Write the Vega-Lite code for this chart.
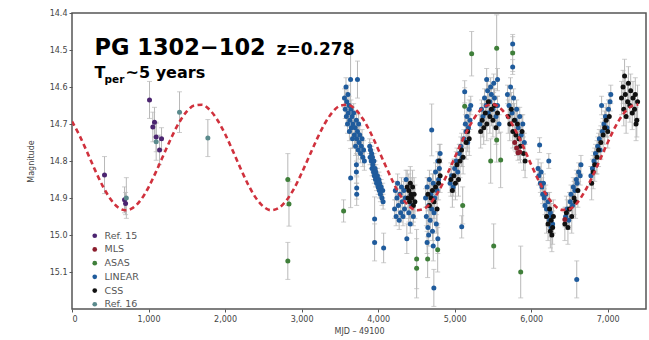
{
  "$schema": "https://vega.github.io/schema/vega-lite/v6.json",
  "width": 574,
  "height": 296,
  "autosize": {"type": "none"},
  "padding": {"left": 72, "top": 13, "right": 3, "bottom": 31},
  "background": "white",
  "config": {
    "view": {"stroke": "#555555", "strokeWidth": 1.5},
    "axis": {"labelFont": "DejaVu Sans", "labelFontSize": 8, "labelColor": "#444444", "titleFont": "DejaVu Sans", "titleFontSize": 8, "titleFontWeight": "normal", "titleColor": "#444444", "domain": false, "grid": false, "tickColor": "#555555", "tickSize": 3}
  },
  "datasets": {
    "model": [
      {"t":0,"mag":14.693},{"t":100,"mag":14.732},{"t":200,"mag":14.777},{"t":300,"mag":14.824},{"t":400,"mag":14.867},{"t":500,"mag":14.902},{"t":600,"mag":14.925},{"t":700,"mag":14.933},{"t":800,"mag":14.926},{"t":900,"mag":14.905},
      {"t":1000,"mag":14.871},{"t":1100,"mag":14.828},{"t":1200,"mag":14.782},{"t":1300,"mag":14.736},{"t":1400,"mag":14.696},{"t":1500,"mag":14.666},{"t":1600,"mag":14.650},{"t":1700,"mag":14.648},{"t":1800,"mag":14.662},{"t":1900,"mag":14.689},
      {"t":2000,"mag":14.727},{"t":2100,"mag":14.772},{"t":2200,"mag":14.819},{"t":2300,"mag":14.863},{"t":2400,"mag":14.899},{"t":2500,"mag":14.923},{"t":2600,"mag":14.933},{"t":2700,"mag":14.927},{"t":2800,"mag":14.907},{"t":2900,"mag":14.875},
      {"t":3000,"mag":14.833},{"t":3100,"mag":14.787},{"t":3200,"mag":14.741},{"t":3300,"mag":14.700},{"t":3400,"mag":14.669},{"t":3500,"mag":14.651},{"t":3600,"mag":14.648},{"t":3700,"mag":14.660},{"t":3800,"mag":14.686},{"t":3900,"mag":14.723},
      {"t":4000,"mag":14.768},{"t":4100,"mag":14.814},{"t":4200,"mag":14.859},{"t":4300,"mag":14.896},{"t":4400,"mag":14.921},{"t":4500,"mag":14.933},{"t":4600,"mag":14.929},{"t":4700,"mag":14.910},{"t":4800,"mag":14.878},{"t":4900,"mag":14.837},
      {"t":5000,"mag":14.791},{"t":5100,"mag":14.745},{"t":5200,"mag":14.704},{"t":5300,"mag":14.671},{"t":5400,"mag":14.652},{"t":5500,"mag":14.647},{"t":5600,"mag":14.658},{"t":5700,"mag":14.683},{"t":5800,"mag":14.719},{"t":5900,"mag":14.763},
      {"t":6000,"mag":14.810},{"t":6100,"mag":14.854},{"t":6200,"mag":14.892},{"t":6300,"mag":14.919},{"t":6400,"mag":14.932},{"t":6500,"mag":14.930},{"t":6600,"mag":14.913},{"t":6700,"mag":14.882},{"t":6800,"mag":14.842},{"t":6900,"mag":14.796},
      {"t":7000,"mag":14.750},{"t":7100,"mag":14.707},{"t":7200,"mag":14.674},{"t":7300,"mag":14.653},{"t":7400,"mag":14.647}
    ],
    "obs": [
      {"src":"Ref. 15","t":425,"mag":14.838,"err":0.05},{"src":"Ref. 15","t":686,"mag":14.905,"err":0.035},{"src":"Ref. 15","t":700,"mag":14.915,"err":0.03},{"src":"Ref. 15","t":1013,"mag":14.635,"err":0.05},{"src":"Ref. 15","t":1056,"mag":14.708,"err":0.04},{"src":"Ref. 15","t":1078,"mag":14.695,"err":0.04},{"src":"Ref. 15","t":1100,"mag":14.735,"err":0.04},{"src":"Ref. 15","t":1144,"mag":14.77,"err":0.04},{"src":"Ref. 15","t":1170,"mag":14.74,"err":0.03},
      {"src":"Ref. 16","t":710,"mag":14.90,"err":0.055},{"src":"Ref. 16","t":1100,"mag":14.748,"err":0.05},{"src":"Ref. 16","t":1405,"mag":14.668,"err":0.055},{"src":"Ref. 16","t":1775,"mag":14.738,"err":0.05},
      {"src":"ASAS","t":2820,"mag":14.85,"err":0.07},{"src":"ASAS","t":2835,"mag":14.916,"err":0.06},{"src":"ASAS","t":2820,"mag":15.07,"err":0.05},{"src":"ASAS","t":3549,"mag":14.935,"err":0.03},{"src":"ASAS","t":4503,"mag":15.065,"err":0.08},{"src":"ASAS","t":4503,"mag":15.09,"err":0.08},{"src":"ASAS","t":4647,"mag":15.065,"err":0.05},{"src":"ASAS","t":4778,"mag":15.04,"err":0.06},{"src":"ASAS","t":5105,"mag":14.92,"err":0.05},{"src":"ASAS","t":5131,"mag":14.652,"err":0.05},{"src":"ASAS","t":5222,"mag":14.51,"err":0.06},{"src":"ASAS","t":5471,"mag":14.80,"err":0.06},{"src":"ASAS","t":5510,"mag":15.03,"err":0.06},{"src":"ASAS","t":5549,"mag":14.495,"err":0.09},{"src":"ASAS","t":5549,"mag":14.743,"err":0.06},{"src":"ASAS","t":5601,"mag":14.797,"err":0.075},{"src":"ASAS","t":5758,"mag":14.508,"err":0.05},{"src":"ASAS","t":5863,"mag":15.10,"err":0.07},
      {"src":"LINEAR","t":3560,"mag":14.63,"err":0.025},{"src":"LINEAR","t":3570,"mag":14.66,"err":0.025},{"src":"LINEAR","t":3580,"mag":14.60,"err":0.025},{"src":"LINEAR","t":3585,"mag":14.68,"err":0.025},{"src":"LINEAR","t":3590,"mag":14.64,"err":0.025},{"src":"LINEAR","t":3600,"mag":14.70,"err":0.025},{"src":"LINEAR","t":3605,"mag":14.62,"err":0.025},{"src":"LINEAR","t":3610,"mag":14.67,"err":0.025},{"src":"LINEAR","t":3620,"mag":14.65,"err":0.025},{"src":"LINEAR","t":3625,"mag":14.72,"err":0.025},{"src":"LINEAR","t":3630,"mag":14.69,"err":0.025},{"src":"LINEAR","t":3640,"mag":14.58,"err":0.07},{"src":"LINEAR","t":3645,"mag":14.66,"err":0.025},{"src":"LINEAR","t":3650,"mag":14.71,"err":0.025},{"src":"LINEAR","t":3660,"mag":14.68,"err":0.025},{"src":"LINEAR","t":3665,"mag":14.74,"err":0.025},{"src":"LINEAR","t":3670,"mag":14.70,"err":0.025},{"src":"LINEAR","t":3680,"mag":14.67,"err":0.025},{"src":"LINEAR","t":3690,"mag":14.73,"err":0.025},{"src":"LINEAR","t":3700,"mag":14.71,"err":0.025},{"src":"LINEAR","t":3705,"mag":14.76,"err":0.025},{"src":"LINEAR","t":3715,"mag":14.69,"err":0.025},{"src":"LINEAR","t":3720,"mag":14.74,"err":0.025},{"src":"LINEAR","t":3730,"mag":14.58,"err":0.05},{"src":"LINEAR","t":3730,"mag":14.72,"err":0.025},{"src":"LINEAR","t":3740,"mag":14.77,"err":0.025},{"src":"LINEAR","t":3745,"mag":14.70,"err":0.025},{"src":"LINEAR","t":3750,"mag":14.75,"err":0.025},{"src":"LINEAR","t":3760,"mag":14.73,"err":0.025},{"src":"LINEAR","t":3770,"mag":14.78,"err":0.025},{"src":"LINEAR","t":3780,"mag":14.76,"err":0.025},{"src":"LINEAR","t":3790,"mag":14.74,"err":0.025},{"src":"LINEAR","t":3800,"mag":14.79,"err":0.025},{"src":"LINEAR","t":3810,"mag":14.77,"err":0.025},{"src":"LINEAR","t":3820,"mag":14.80,"err":0.025},
      {"src":"LINEAR","t":3641,"mag":14.846,"err":0.08},{"src":"LINEAR","t":3716,"mag":14.81,"err":0.03},{"src":"LINEAR","t":3716,"mag":14.83,"err":0.03},{"src":"LINEAR","t":3720,"mag":14.873,"err":0.03},{"src":"LINEAR","t":3720,"mag":14.89,"err":0.03},{"src":"LINEAR","t":3954,"mag":14.957,"err":0.06},{"src":"LINEAR","t":3954,"mag":15.02,"err":0.05},{"src":"LINEAR","t":4072,"mag":15.035,"err":0.04},
      {"src":"LINEAR","t":3890,"mag":14.76,"err":0.02},{"src":"LINEAR","t":3895,"mag":14.79,"err":0.02},{"src":"LINEAR","t":3900,"mag":14.77,"err":0.02},{"src":"LINEAR","t":3910,"mag":14.80,"err":0.02},{"src":"LINEAR","t":3915,"mag":14.78,"err":0.02},{"src":"LINEAR","t":3920,"mag":14.82,"err":0.02},{"src":"LINEAR","t":3925,"mag":14.79,"err":0.02},{"src":"LINEAR","t":3930,"mag":14.81,"err":0.02},{"src":"LINEAR","t":3940,"mag":14.83,"err":0.02},{"src":"LINEAR","t":3945,"mag":14.80,"err":0.02},{"src":"LINEAR","t":3950,"mag":14.84,"err":0.02},{"src":"LINEAR","t":3960,"mag":14.82,"err":0.02},{"src":"LINEAR","t":3965,"mag":14.85,"err":0.02},{"src":"LINEAR","t":3970,"mag":14.83,"err":0.02},{"src":"LINEAR","t":3980,"mag":14.86,"err":0.02},{"src":"LINEAR","t":3990,"mag":14.84,"err":0.02},{"src":"LINEAR","t":4000,"mag":14.87,"err":0.02},{"src":"LINEAR","t":4010,"mag":14.85,"err":0.02},{"src":"LINEAR","t":4015,"mag":14.88,"err":0.02},{"src":"LINEAR","t":4020,"mag":14.86,"err":0.02},{"src":"LINEAR","t":4030,"mag":14.89,"err":0.02},{"src":"LINEAR","t":4040,"mag":14.87,"err":0.02},{"src":"LINEAR","t":4050,"mag":14.90,"err":0.02},{"src":"LINEAR","t":4060,"mag":14.88,"err":0.02},{"src":"LINEAR","t":4065,"mag":14.91,"err":0.02},
      {"src":"LINEAR","t":4215,"mag":14.93,"err":0.025},{"src":"LINEAR","t":4225,"mag":14.88,"err":0.025},{"src":"LINEAR","t":4235,"mag":14.95,"err":0.025},{"src":"LINEAR","t":4245,"mag":14.90,"err":0.025},{"src":"LINEAR","t":4255,"mag":14.86,"err":0.025},{"src":"LINEAR","t":4265,"mag":14.92,"err":0.025},{"src":"LINEAR","t":4275,"mag":14.96,"err":0.025},{"src":"LINEAR","t":4285,"mag":14.89,"err":0.025},{"src":"LINEAR","t":4295,"mag":14.94,"err":0.025},{"src":"LINEAR","t":4305,"mag":14.87,"err":0.025},{"src":"LINEAR","t":4315,"mag":14.91,"err":0.025},{"src":"LINEAR","t":4325,"mag":14.95,"err":0.025},{"src":"LINEAR","t":4335,"mag":14.88,"err":0.025},{"src":"LINEAR","t":4345,"mag":14.93,"err":0.025},{"src":"LINEAR","t":4355,"mag":14.90,"err":0.025},{"src":"LINEAR","t":4365,"mag":14.85,"err":0.025},{"src":"LINEAR","t":4400,"mag":14.94,"err":0.025},{"src":"LINEAR","t":4420,"mag":14.97,"err":0.025},{"src":"LINEAR","t":4440,"mag":14.92,"err":0.025},{"src":"LINEAR","t":4460,"mag":14.95,"err":0.025},{"src":"LINEAR","t":4375,"mag":15.01,"err":0.04},
      {"src":"LINEAR","t":4620,"mag":14.90,"err":0.025},{"src":"LINEAR","t":4630,"mag":14.95,"err":0.025},{"src":"LINEAR","t":4640,"mag":14.87,"err":0.025},{"src":"LINEAR","t":4650,"mag":14.98,"err":0.025},{"src":"LINEAR","t":4660,"mag":14.92,"err":0.025},{"src":"LINEAR","t":4670,"mag":14.85,"err":0.025},{"src":"LINEAR","t":4680,"mag":14.96,"err":0.025},{"src":"LINEAR","t":4690,"mag":14.89,"err":0.025},{"src":"LINEAR","t":4700,"mag":14.93,"err":0.025},{"src":"LINEAR","t":4710,"mag":14.99,"err":0.025},{"src":"LINEAR","t":4720,"mag":14.86,"err":0.025},{"src":"LINEAR","t":4730,"mag":14.94,"err":0.025},{"src":"LINEAR","t":4740,"mag":14.90,"err":0.025},{"src":"LINEAR","t":4750,"mag":14.83,"err":0.025},{"src":"LINEAR","t":4760,"mag":14.97,"err":0.025},{"src":"LINEAR","t":4770,"mag":14.88,"err":0.025},{"src":"LINEAR","t":4780,"mag":14.80,"err":0.025},{"src":"LINEAR","t":4790,"mag":14.85,"err":0.025},{"src":"LINEAR","t":4800,"mag":14.82,"err":0.025},{"src":"LINEAR","t":4810,"mag":14.78,"err":0.025},{"src":"LINEAR","t":4700,"mag":14.716,"err":0.07},{"src":"LINEAR","t":4728,"mag":15.143,"err":0.05},{"src":"LINEAR","t":4720,"mag":15.03,"err":0.04},{"src":"LINEAR","t":4780,"mag":15.01,"err":0.04},{"src":"LINEAR","t":4660,"mag":15.00,"err":0.03},{"src":"LINEAR","t":4640,"mag":15.02,"err":0.03},
      {"src":"LINEAR","t":4940,"mag":14.86,"err":0.025},{"src":"LINEAR","t":4960,"mag":14.84,"err":0.025},{"src":"LINEAR","t":4980,"mag":14.87,"err":0.025},{"src":"LINEAR","t":5000,"mag":14.82,"err":0.025},{"src":"LINEAR","t":5020,"mag":14.80,"err":0.025},{"src":"LINEAR","t":5040,"mag":14.83,"err":0.025},{"src":"LINEAR","t":5060,"mag":14.78,"err":0.025},{"src":"LINEAR","t":5080,"mag":14.76,"err":0.025},{"src":"LINEAR","t":5092,"mag":14.978,"err":0.03},{"src":"LINEAR","t":5100,"mag":14.79,"err":0.025},{"src":"LINEAR","t":5120,"mag":14.74,"err":0.025},{"src":"LINEAR","t":5131,"mag":14.613,"err":0.03},{"src":"LINEAR","t":5140,"mag":14.70,"err":0.025},{"src":"LINEAR","t":5150,"mag":14.72,"err":0.025},{"src":"LINEAR","t":5160,"mag":14.68,"err":0.025},{"src":"LINEAR","t":5170,"mag":14.75,"err":0.025},{"src":"LINEAR","t":5180,"mag":14.71,"err":0.025},{"src":"LINEAR","t":5190,"mag":14.66,"err":0.025},{"src":"LINEAR","t":5200,"mag":14.69,"err":0.025},{"src":"LINEAR","t":5210,"mag":14.65,"err":0.025},
      {"src":"LINEAR","t":5330,"mag":14.70,"err":0.025},{"src":"LINEAR","t":5350,"mag":14.66,"err":0.025},{"src":"LINEAR","t":5370,"mag":14.68,"err":0.025},{"src":"LINEAR","t":5390,"mag":14.63,"err":0.025},{"src":"LINEAR","t":5410,"mag":14.65,"err":0.025},{"src":"LINEAR","t":5418,"mag":14.58,"err":0.03},{"src":"LINEAR","t":5430,"mag":14.61,"err":0.025},{"src":"LINEAR","t":5440,"mag":14.67,"err":0.025},{"src":"LINEAR","t":5460,"mag":14.64,"err":0.025},{"src":"LINEAR","t":5470,"mag":14.60,"err":0.025},{"src":"LINEAR","t":5480,"mag":14.62,"err":0.025},{"src":"LINEAR","t":5500,"mag":14.66,"err":0.025},{"src":"LINEAR","t":5510,"mag":14.59,"err":0.025},{"src":"LINEAR","t":5520,"mag":14.63,"err":0.025},{"src":"LINEAR","t":5540,"mag":14.68,"err":0.025},{"src":"LINEAR","t":5560,"mag":14.65,"err":0.025},{"src":"LINEAR","t":5560,"mag":14.58,"err":0.03},{"src":"LINEAR","t":5580,"mag":14.70,"err":0.025},
      {"src":"LINEAR","t":5690,"mag":14.62,"err":0.025},{"src":"LINEAR","t":5710,"mag":14.65,"err":0.025},{"src":"LINEAR","t":5730,"mag":14.60,"err":0.025},{"src":"LINEAR","t":5750,"mag":14.67,"err":0.025},{"src":"LINEAR","t":5758,"mag":14.484,"err":0.02},{"src":"LINEAR","t":5758,"mag":14.546,"err":0.02},{"src":"LINEAR","t":5770,"mag":14.63,"err":0.025},{"src":"LINEAR","t":5790,"mag":14.69,"err":0.025},{"src":"LINEAR","t":5810,"mag":14.66,"err":0.025},{"src":"LINEAR","t":5830,"mag":14.71,"err":0.025},{"src":"LINEAR","t":5850,"mag":14.68,"err":0.025},{"src":"LINEAR","t":5870,"mag":14.73,"err":0.025},{"src":"LINEAR","t":5890,"mag":14.70,"err":0.025},{"src":"LINEAR","t":5910,"mag":14.75,"err":0.025},{"src":"LINEAR","t":6110,"mag":14.757,"err":0.02},{"src":"LINEAR","t":6230,"mag":14.80,"err":0.02},
      {"src":"LINEAR","t":6090,"mag":14.82,"err":0.025},{"src":"LINEAR","t":6100,"mag":14.84,"err":0.025},{"src":"LINEAR","t":6120,"mag":14.86,"err":0.025},{"src":"LINEAR","t":6130,"mag":14.83,"err":0.025},{"src":"LINEAR","t":6140,"mag":14.87,"err":0.025},{"src":"LINEAR","t":6150,"mag":14.89,"err":0.025},{"src":"LINEAR","t":6160,"mag":14.86,"err":0.025},{"src":"LINEAR","t":6170,"mag":14.90,"err":0.025},{"src":"LINEAR","t":6180,"mag":14.92,"err":0.025},{"src":"LINEAR","t":6190,"mag":14.89,"err":0.025},{"src":"LINEAR","t":6200,"mag":14.93,"err":0.025},{"src":"LINEAR","t":6210,"mag":14.95,"err":0.025},{"src":"LINEAR","t":6220,"mag":14.91,"err":0.025},{"src":"LINEAR","t":6240,"mag":14.96,"err":0.025},{"src":"LINEAR","t":6250,"mag":14.94,"err":0.025},{"src":"LINEAR","t":6260,"mag":14.98,"err":0.025},{"src":"LINEAR","t":6270,"mag":14.95,"err":0.025},{"src":"LINEAR","t":6280,"mag":14.97,"err":0.025},
      {"src":"LINEAR","t":6450,"mag":14.95,"err":0.025},{"src":"LINEAR","t":6470,"mag":14.93,"err":0.025},{"src":"LINEAR","t":6490,"mag":14.96,"err":0.025},{"src":"LINEAR","t":6510,"mag":14.91,"err":0.025},{"src":"LINEAR","t":6520,"mag":14.89,"err":0.025},{"src":"LINEAR","t":6540,"mag":14.92,"err":0.025},{"src":"LINEAR","t":6550,"mag":14.87,"err":0.025},{"src":"LINEAR","t":6570,"mag":14.88,"err":0.025},{"src":"LINEAR","t":6590,"mag":14.85,"err":0.025},{"src":"LINEAR","t":6600,"mag":14.86,"err":0.025},{"src":"LINEAR","t":6620,"mag":14.83,"err":0.025},{"src":"LINEAR","t":6640,"mag":14.84,"err":0.025},{"src":"LINEAR","t":6650,"mag":14.81,"err":0.025},{"src":"LINEAR","t":6595,"mag":15.12,"err":0.05},
      {"src":"LINEAR","t":6780,"mag":14.84,"err":0.025},{"src":"LINEAR","t":6800,"mag":14.82,"err":0.025},{"src":"LINEAR","t":6820,"mag":14.80,"err":0.025},{"src":"LINEAR","t":6840,"mag":14.78,"err":0.025},{"src":"LINEAR","t":6850,"mag":14.81,"err":0.025},{"src":"LINEAR","t":6870,"mag":14.76,"err":0.025},{"src":"LINEAR","t":6890,"mag":14.74,"err":0.025},{"src":"LINEAR","t":6900,"mag":14.77,"err":0.025},{"src":"LINEAR","t":6920,"mag":14.65,"err":0.025},{"src":"LINEAR","t":6930,"mag":14.72,"err":0.025},{"src":"LINEAR","t":6950,"mag":14.70,"err":0.025},{"src":"LINEAR","t":6970,"mag":14.68,"err":0.025},{"src":"LINEAR","t":6990,"mag":14.71,"err":0.025},{"src":"LINEAR","t":7010,"mag":14.66,"err":0.025},{"src":"LINEAR","t":7030,"mag":14.64,"err":0.025},{"src":"LINEAR","t":7040,"mag":14.62,"err":0.025},
      {"src":"CSS","t":4380,"mag":14.87,"err":0.045},{"src":"CSS","t":4390,"mag":14.90,"err":0.045},{"src":"CSS","t":4400,"mag":14.88,"err":0.045},{"src":"CSS","t":4410,"mag":14.91,"err":0.045},{"src":"CSS","t":4420,"mag":14.86,"err":0.045},{"src":"CSS","t":4430,"mag":14.89,"err":0.045},{"src":"CSS","t":4440,"mag":14.90,"err":0.045},{"src":"CSS","t":4450,"mag":14.87,"err":0.045},{"src":"CSS","t":4460,"mag":14.92,"err":0.045},{"src":"CSS","t":4470,"mag":14.89,"err":0.045},{"src":"CSS","t":4480,"mag":14.91,"err":0.045},
      {"src":"CSS","t":4650,"mag":14.89,"err":0.045},{"src":"CSS","t":4670,"mag":14.92,"err":0.045},{"src":"CSS","t":4690,"mag":14.90,"err":0.045},{"src":"CSS","t":4710,"mag":14.88,"err":0.045},{"src":"CSS","t":4730,"mag":14.91,"err":0.045},{"src":"CSS","t":4750,"mag":14.87,"err":0.045},{"src":"CSS","t":4770,"mag":14.93,"err":0.045},{"src":"CSS","t":4790,"mag":14.86,"err":0.045},{"src":"CSS","t":4810,"mag":14.84,"err":0.045},{"src":"CSS","t":4800,"mag":14.80,"err":0.045},
      {"src":"CSS","t":4950,"mag":14.85,"err":0.045},{"src":"CSS","t":4970,"mag":14.88,"err":0.045},{"src":"CSS","t":4990,"mag":14.84,"err":0.045},{"src":"CSS","t":5010,"mag":14.86,"err":0.045},{"src":"CSS","t":5030,"mag":14.81,"err":0.045},{"src":"CSS","t":5050,"mag":14.85,"err":0.045},{"src":"CSS","t":5070,"mag":14.80,"err":0.045},{"src":"CSS","t":5090,"mag":14.77,"err":0.045},{"src":"CSS","t":5110,"mag":14.79,"err":0.045},{"src":"CSS","t":5150,"mag":14.75,"err":0.045},{"src":"CSS","t":5170,"mag":14.72,"err":0.045},{"src":"CSS","t":5190,"mag":14.74,"err":0.045},
      {"src":"CSS","t":5340,"mag":14.72,"err":0.045},{"src":"CSS","t":5360,"mag":14.69,"err":0.045},{"src":"CSS","t":5380,"mag":14.71,"err":0.045},{"src":"CSS","t":5400,"mag":14.67,"err":0.045},{"src":"CSS","t":5420,"mag":14.70,"err":0.045},{"src":"CSS","t":5440,"mag":14.64,"err":0.045},{"src":"CSS","t":5460,"mag":14.68,"err":0.045},{"src":"CSS","t":5480,"mag":14.66,"err":0.045},{"src":"CSS","t":5500,"mag":14.69,"err":0.045},{"src":"CSS","t":5520,"mag":14.65,"err":0.045},{"src":"CSS","t":5540,"mag":14.71,"err":0.045},{"src":"CSS","t":5560,"mag":14.67,"err":0.045},
      {"src":"CSS","t":5700,"mag":14.68,"err":0.045},{"src":"CSS","t":5720,"mag":14.70,"err":0.045},{"src":"CSS","t":5740,"mag":14.66,"err":0.045},{"src":"CSS","t":5760,"mag":14.72,"err":0.045},{"src":"CSS","t":5780,"mag":14.69,"err":0.045},{"src":"CSS","t":5800,"mag":14.73,"err":0.045},{"src":"CSS","t":5820,"mag":14.70,"err":0.045},{"src":"CSS","t":5840,"mag":14.74,"err":0.045},{"src":"CSS","t":5860,"mag":14.76,"err":0.045},{"src":"CSS","t":5880,"mag":14.72,"err":0.045},{"src":"CSS","t":5900,"mag":14.78,"err":0.045},{"src":"CSS","t":5920,"mag":14.80,"err":0.045},
      {"src":"CSS","t":6200,"mag":14.95,"err":0.045},{"src":"CSS","t":6220,"mag":14.97,"err":0.045},{"src":"CSS","t":6240,"mag":14.93,"err":0.045},{"src":"CSS","t":6250,"mag":14.99,"err":0.045},{"src":"CSS","t":6260,"mag":14.96,"err":0.045},{"src":"CSS","t":6270,"mag":15.00,"err":0.045},{"src":"CSS","t":6280,"mag":14.98,"err":0.045},{"src":"CSS","t":6290,"mag":14.95,"err":0.045},
      {"src":"CSS","t":6440,"mag":14.97,"err":0.045},{"src":"CSS","t":6460,"mag":14.94,"err":0.045},{"src":"CSS","t":6480,"mag":14.98,"err":0.045},{"src":"CSS","t":6500,"mag":14.93,"err":0.045},{"src":"CSS","t":6530,"mag":14.95,"err":0.045},{"src":"CSS","t":6560,"mag":14.90,"err":0.045},{"src":"CSS","t":6580,"mag":14.91,"err":0.045},{"src":"CSS","t":6610,"mag":14.88,"err":0.045},
      {"src":"CSS","t":6790,"mag":14.86,"err":0.045},{"src":"CSS","t":6810,"mag":14.83,"err":0.045},{"src":"CSS","t":6830,"mag":14.81,"err":0.045},{"src":"CSS","t":6860,"mag":14.79,"err":0.045},{"src":"CSS","t":6880,"mag":14.77,"err":0.045},{"src":"CSS","t":6910,"mag":14.75,"err":0.045},{"src":"CSS","t":6940,"mag":14.73,"err":0.045},{"src":"CSS","t":6960,"mag":14.71,"err":0.045},{"src":"CSS","t":6980,"mag":14.69,"err":0.045},{"src":"CSS","t":7000,"mag":14.72,"err":0.045},{"src":"CSS","t":7020,"mag":14.68,"err":0.045},
      {"src":"CSS","t":7180,"mag":14.63,"err":0.045},{"src":"CSS","t":7200,"mag":14.60,"err":0.045},{"src":"CSS","t":7210,"mag":14.66,"err":0.045},{"src":"CSS","t":7220,"mag":14.57,"err":0.045},{"src":"CSS","t":7230,"mag":14.62,"err":0.045},{"src":"CSS","t":7240,"mag":14.68,"err":0.045},{"src":"CSS","t":7260,"mag":14.64,"err":0.045},{"src":"CSS","t":7270,"mag":14.59,"err":0.045},{"src":"CSS","t":7290,"mag":14.65,"err":0.045},{"src":"CSS","t":7300,"mag":14.61,"err":0.045},{"src":"CSS","t":7320,"mag":14.67,"err":0.045},{"src":"CSS","t":7330,"mag":14.63,"err":0.045},{"src":"CSS","t":7350,"mag":14.66,"err":0.045},{"src":"CSS","t":7360,"mag":14.62,"err":0.045},{"src":"CSS","t":7370,"mag":14.70,"err":0.045},{"src":"CSS","t":7380,"mag":14.69,"err":0.045},{"src":"CSS","t":7390,"mag":14.64,"err":0.045},
      {"src":"MLS","t":5785,"mag":14.75,"err":0.02},{"src":"MLS","t":5810,"mag":14.765,"err":0.02},{"src":"MLS","t":5827,"mag":14.778,"err":0.02},{"src":"MLS","t":5850,"mag":14.776,"err":0.02},{"src":"MLS","t":6440,"mag":14.958,"err":0.02}
    ]
  },
  "encoding": {
    "x": {"field": "t", "type": "quantitative", "scale": {"domain": [0, 7500], "nice": false, "zero": false}, "axis": {"title": "MJD \u2013 49100", "values": [0,1000,2000,3000,4000,5000,6000,7000], "format": ",d", "labelPadding": 3, "titlePadding": 4}},
    "y": {"field": "mag", "type": "quantitative", "scale": {"domain": [14.4, 15.2], "reverse": true, "nice": false, "zero": false}, "axis": {"title": "Magnitude", "values": [14.4,14.5,14.6,14.7,14.8,14.9,15.0,15.1], "format": ".1f", "labelPadding": 2, "titlePadding": 14}}
  },
  "layer": [
    {"data": {"name": "obs"}, "mark": {"type": "errorbar", "ticks": {"size": 5}, "color": "#b8b8b8", "clip": true}, "encoding": {"yError": {"field": "err"}}},
    {"data": {"name": "obs"}, "mark": {"type": "circle", "size": 25, "opacity": 1, "clip": true},
     "encoding": {"color": {"field": "src", "type": "nominal", "sort": null,
       "scale": {"domain": ["Ref. 15","MLS","ASAS","LINEAR","CSS","Ref. 16"], "range": ["#4b2470","#8b1c2c","#3f7f3a","#1f5b9c","#111111","#5a8a8c"]},
       "legend": {"title": null, "orient": "none", "legendX": 18, "legendY": 218, "padding": 0, "symbolType": "circle", "symbolSize": 22, "labelFont": "DejaVu Sans", "labelFontSize": 9.5, "labelColor": "#555555", "rowPadding": 2.7, "labelOffset": 5}}}},
    {"data": {"name": "model"}, "mark": {"type": "line", "color": "#d0313d", "strokeWidth": 2.6, "strokeDash": [5, 3.5], "interpolate": "monotone", "clip": true}, "encoding": {}},
    {"data": {"values": [{"t": 294, "mag": 14.5135, "label": "PG 1302\u2212102"}]}, "mark": {"type": "text", "font": "DejaVu Sans", "fontWeight": "bold", "fontSize": 22.5, "align": "left", "baseline": "alphabetic", "color": "#000000"}, "encoding": {"text": {"field": "label"}}},
    {"data": {"values": [{"t": 2673, "mag": 14.5135, "label": "z=0.278"}]}, "mark": {"type": "text", "font": "DejaVu Sans", "fontWeight": "bold", "fontSize": 17, "align": "left", "baseline": "alphabetic", "color": "#000000"}, "encoding": {"text": {"field": "label"}}},
    {"data": {"values": [{"t": 294, "mag": 14.5757, "label": "T"}]}, "mark": {"type": "text", "font": "DejaVu Sans", "fontWeight": "bold", "fontSize": 16, "align": "left", "baseline": "alphabetic", "color": "#000000"}, "encoding": {"text": {"field": "label"}}},
    {"data": {"values": [{"t": 425, "mag": 14.589, "label": "per"}]}, "mark": {"type": "text", "font": "DejaVu Sans", "fontWeight": "bold", "fontSize": 10.5, "align": "left", "baseline": "alphabetic", "color": "#000000"}, "encoding": {"text": {"field": "label"}}},
    {"data": {"values": [{"t": 700, "mag": 14.5757, "label": "~5 years"}]}, "mark": {"type": "text", "font": "DejaVu Sans", "fontWeight": "bold", "fontSize": 16, "align": "left", "baseline": "alphabetic", "color": "#000000"}, "encoding": {"text": {"field": "label"}}}
  ]
}
